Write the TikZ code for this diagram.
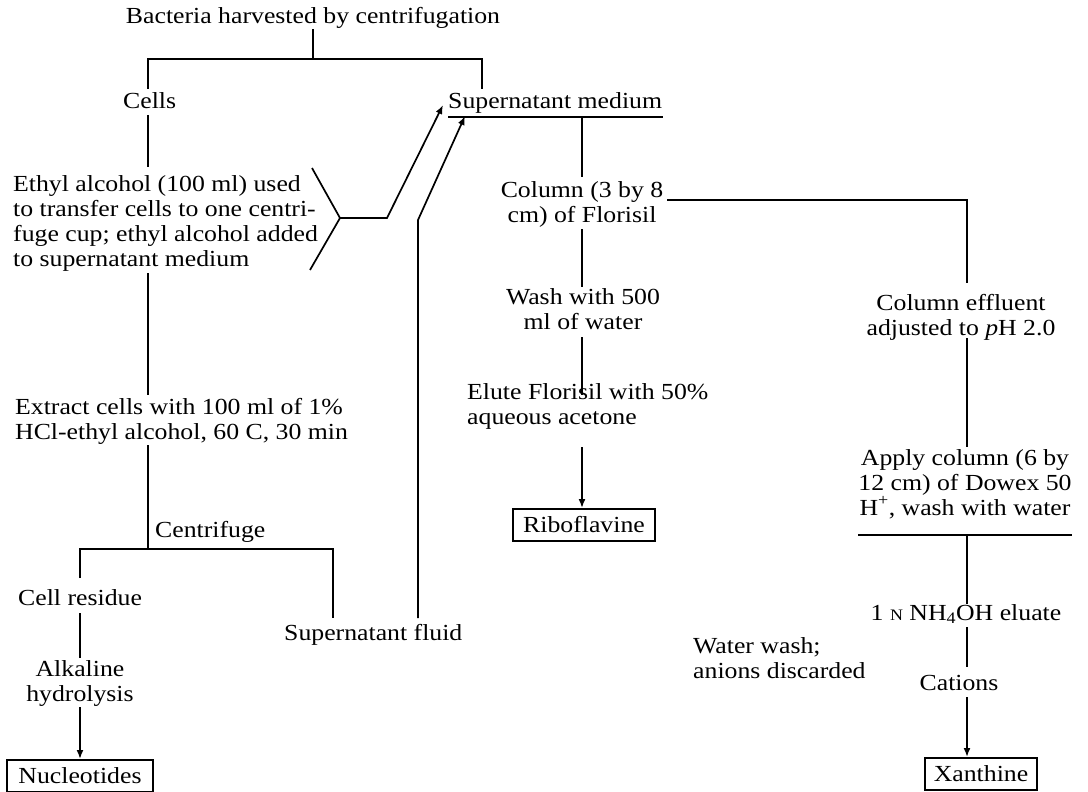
\documentclass[tikz,border=0pt]{standalone}
\usepackage{fontspec}
\setmainfont{Liberation Serif}[FakeStretch=1.12]
\usetikzlibrary{arrows.meta}
\begin{document}
\begin{tikzpicture}[x=1pt,y=-1pt,
  lbl/.style={inner sep=0pt, font=\fontsize{23}{25}\selectfont},
  boxed/.style={lbl, draw, line width=1.7pt, minimum height=32pt},
  conn/.style={line width=1.7pt},
  arr/.style={conn, -{Latex[length=9pt,width=7pt]}}]
\useasboundingbox (0,0) rectangle (1088,792);

% nodes (multi-line nodes: base = baseline of the last line)
\node[lbl, anchor=base] (bact) at (313,24) {Bacteria harvested by centrifugation};
\node[lbl, anchor=base west] (cells) at (123,108) {Cells};
\node[lbl, anchor=base west] (supm) at (448,108) {Supernatant medium};
\node[lbl, anchor=base west, align=left] (ethyl) at (13,266) {Ethyl alcohol (100 ml) used\\to transfer cells to one centri-\\fuge cup; ethyl alcohol added\\to supernatant medium};
\node[lbl, anchor=base west, align=left] (extract) at (15,439) {Extract cells with 100 ml of 1\%\\HCl-ethyl alcohol, 60 C, 30 min};
\node[lbl, anchor=base west] (centr) at (155,537) {Centrifuge};
\node[lbl, anchor=base west] (cellres) at (18,605) {Cell residue};
\node[lbl, anchor=base, align=center] (alk) at (80,701) {Alkaline\\hydrolysis};
\node[boxed, minimum width=146pt, anchor=north] (nucl) at (80,759) {Nucleotides};
\node[lbl, anchor=base west] (supfl) at (284,640) {Supernatant fluid};
\node[lbl, anchor=base, align=center] (col) at (582,222) {Column (3 by 8\\cm) of Florisil};
\node[lbl, anchor=base, align=center] (wash) at (583,329) {Wash with 500\\ml of water};
\node[lbl, anchor=base west, align=left] (elute) at (467,424) {Elute Florisil with 50\%\\aqueous acetone};
\node[boxed, minimum width=142pt, anchor=north] (ribo) at (584,508) {Riboflavine};
\node[lbl, anchor=base, align=center] (effl) at (961,335) {Column effluent\\adjusted to \textit{p}H 2.0};
\node[lbl, anchor=base, align=center] (apply) at (965,515) {Apply column (6 by\\12 cm) of Dowex 50\\H\textsuperscript{+}, wash with water};
\node[lbl, anchor=base] (nh) at (966,620) {1 {\fontsize{16}{16}\selectfont N} NH\textsubscript{4}OH eluate};
\node[lbl, anchor=base west, align=left] (wwash) at (693,678) {Water wash;\\anions discarded};
\node[lbl, anchor=base] (cat) at (959,690) {Cations};
\node[boxed, minimum width=112pt, anchor=north] (xan) at (981,757) {Xanthine};

% junction coordinates
\coordinate (split1) at (312,59);
\coordinate (cellsTop) at (148,89);
\coordinate (supTop) at (482,89);
\coordinate (a1) at (148,115);
\coordinate (a2) at (148,167);
\coordinate (bu) at (312,168);
\coordinate (bv) at (340,218);
\coordinate (bl) at (310,270);
\coordinate (bh) at (387,218);
\coordinate (supArr1) at (443,105);
\coordinate (a3) at (148,273);
\coordinate (a4) at (148,395);
\coordinate (a5) at (148,445);
\coordinate (cj) at (148,549);
\coordinate (crL) at (80,578);
\coordinate (crR) at (333,618);
\coordinate (a6) at (80,613);
\coordinate (a7) at (80,658);
\coordinate (a8) at (80,707);
\coordinate (sf1) at (418,618);
\coordinate (sf2) at (418,220);
\coordinate (supArr2) at (465,116);
\coordinate (ul1) at (448,117);
\coordinate (ul2) at (663,117);
\coordinate (s1) at (582,117);
\coordinate (s2) at (582,177);
\coordinate (s3) at (582,229);
\coordinate (s4) at (582,287);
\coordinate (s5) at (582,337);
\coordinate (s6) at (582,395);
\coordinate (s7) at (582,447);
\coordinate (r0) at (667,200);
\coordinate (r1) at (967,200);
\coordinate (r2) at (967,283);
\coordinate (r3) at (967,338);
\coordinate (r4) at (967,447);
\coordinate (u1) at (858,535);
\coordinate (u2) at (1072,535);
\coordinate (r5) at (967,535);
\coordinate (r6) at (967,604);
\coordinate (r7) at (967,627);
\coordinate (r8) at (967,667);
\coordinate (r9) at (967,697);

% connectors
\draw[conn] (bact.south) -- (bact.south |- split1);
\draw[conn] (cellsTop) -- (cellsTop |- split1) -- (supTop |- split1) -- (supTop);
\draw[conn] (a1) -- (a2);
\draw[conn] (bu) -- (bv) -- (bl);
\draw[arr] (bv) -- (bh) -- (supArr1);
\draw[conn] (a3) -- (a4);
\draw[conn] (a5) -- (cj);
\draw[conn] (crL) -- (crL |- cj) -- (crR |- cj) -- (crR);
\draw[conn] (a6) -- (a7);
\draw[arr] (a8) -- (nucl.north -| a8);
\draw[arr] (sf1) -- (sf2) -- (supArr2);
\draw[conn] (ul1) -- (ul2);
\draw[conn] (s1) -- (s2);
\draw[conn] (s3) -- (s4);
\draw[conn] (s5) -- (s6);
\draw[arr] (s7) -- (ribo.north -| s7);
\draw[conn] (r0) -- (r1) -- (r2);
\draw[conn] (r3) -- (r4);
\draw[conn] (u1) -- (u2);
\draw[conn] (r5) -- (r6);
\draw[conn] (r7) -- (r8);
\draw[arr] (r9) -- (xan.north -| r9);
\end{tikzpicture}
\end{document}
